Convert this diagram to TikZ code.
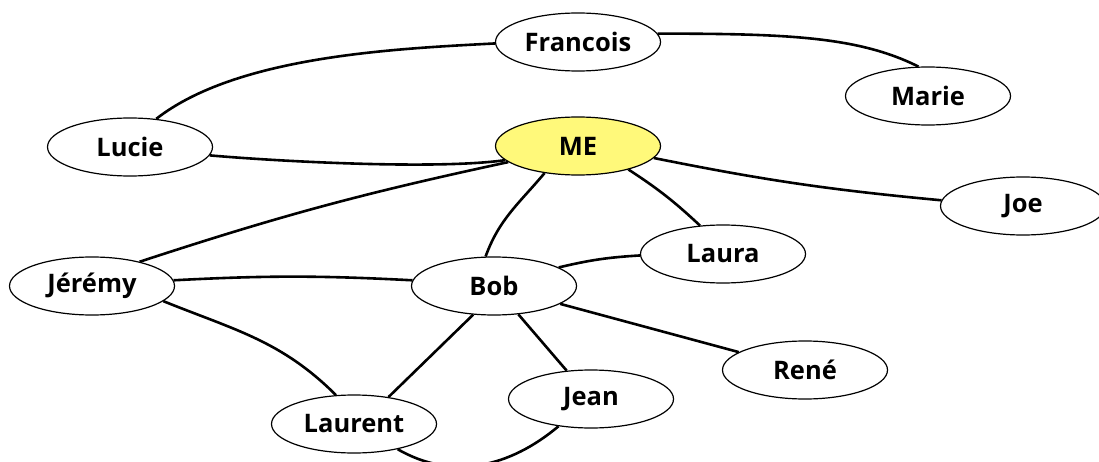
\documentclass[tikz,border=0pt]{standalone}
\usepackage{fontspec}
\setmainfont{Open Sans}
\usetikzlibrary{shapes.geometric}
\definecolor{meyellow}{RGB}{255,249,122}
\tikzset{
  person/.style={ellipse, draw=black, line width=1.2pt, fill=white,
                 minimum width=165pt, minimum height=58pt, inner sep=0pt,
                 font=\fontsize{25.5}{30}\selectfont\bfseries},
  menode/.style={person, fill=meyellow},
  link/.style={black, line width=2.6pt},
}
\begin{document}
\begin{tikzpicture}[x=1pt, y=1pt]
  \useasboundingbox (0,0) rectangle (1099,461);
  % people
  \node[person] (francois) at (578,419) {Francois};
  \node[person] (marie) at (928,365) {Marie};
  \node[person] (lucie) at (130,314) {Lucie};
  \node[menode] (me) at (578,315) {ME};
  \node[person] (joe) at (1023,255) {Joe};
  \node[person] (jeremy) at (92,175) {Jérémy};
  \node[person] (bob) at (494,175) {Bob};
  \node[person] (laura) at (723,207) {Laura};
  \node[person] (rene) at (805,91) {René};
  \node[person] (jean) at (591,62) {Jean};
  \node[person] (laurent) at (354,37) {Laurent};
  % links
  \draw[link] (lucie.47) to[out=38, in=183, looseness=0.75] (francois.181);
  \draw[link] (francois.6) .. controls +(130,0) and +(-60,30) .. (marie.108);
  \draw[link] (lucie.-6) to[out=-5, in=188, looseness=0.6] (me.191);
  \draw[link] (me.-9) to[bend right=3] (joe.176);
  \draw[link] (me.193) to[bend right=3] (jeremy.27);
  \draw[link] (me.-141) to[out=-130, in=70] (bob.106);
  \draw[link] (me.-25) to[bend left=5] (laura.129);
  \draw[link] (jeremy.4) to[bend left=3] (bob.176);
  \draw[link] (bob.16) to[bend left=5] (laura.181);
  \draw[link] (bob) -- (rene);
  \draw[link] (bob) -- (jean);
  \draw[link] (bob.-126) -- (laurent.38);
  \draw[link] (jeremy.-12) to[out=-22, in=135] (laurent.122);
  \draw[link] (laurent) to[out=-30, in=-140] (jean);
\end{tikzpicture}
\end{document}
